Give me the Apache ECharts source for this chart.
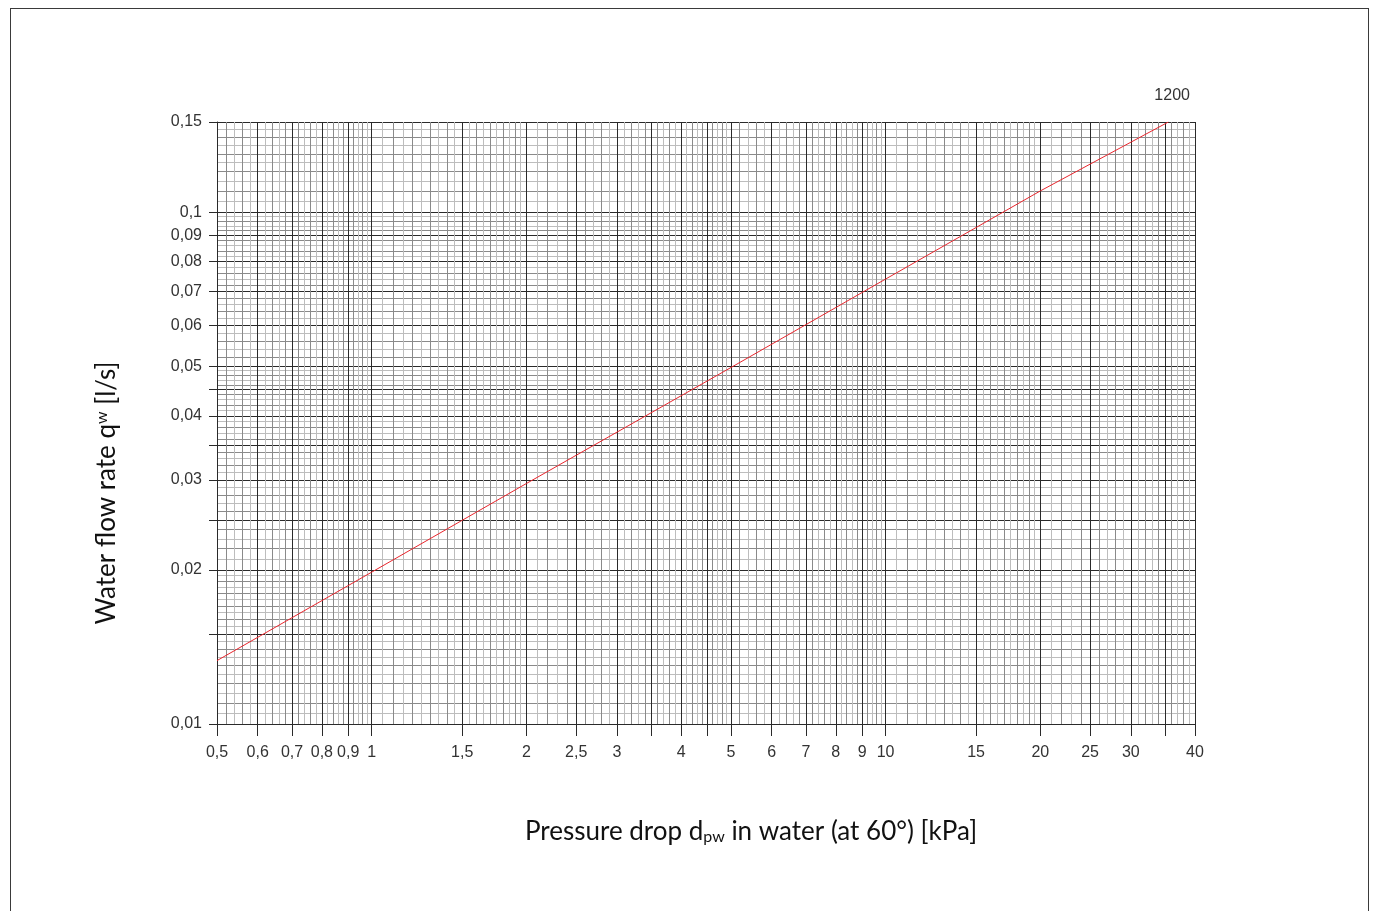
<!DOCTYPE html>
<html>
<head>
<meta charset="utf-8">
<script src="https://cdn.jsdelivr.net/npm/echarts@6/dist/echarts.min.js"></script>
<style>
html, body { margin: 0; padding: 0; background: #fff; overflow: hidden; }
#frame { position: absolute; left: 10px; top: 8px; width: 1357px; height: 1000px; border: 1px solid #3a3a3a; }
#chart { position: absolute; left: 0; top: 0; width: 1373px; height: 911px; }
</style>
</head>
<body>
<div id="frame"></div>
<div id="chart"></div>
<script>
// axis ticks / labels
const xTicks = [0.5, 0.6, 0.7, 0.8, 0.9, 1, 1.5, 2, 2.5, 3, 3.5, 4, 4.5, 5, 6, 7, 8, 9, 10, 15, 20, 25, 30, 35, 40];
const xLabels = [0.5, 0.6, 0.7, 0.8, 0.9, 1, 1.5, 2, 2.5, 3, 4, 5, 6, 7, 8, 9, 10, 15, 20, 25, 30, 40];
const yTicks = [0.01, 0.015, 0.02, 0.025, 0.03, 0.035, 0.04, 0.045, 0.05, 0.06, 0.07, 0.08, 0.09, 0.1, 0.15];
const yLabels = [0.01, 0.02, 0.03, 0.04, 0.05, 0.06, 0.07, 0.08, 0.09, 0.1, 0.15];

// fine grid: [from, to, step]
const xFine = [[0.5, 1, 0.02], [1, 2, 0.05], [2, 5, 0.1], [5, 10, 0.2], [10, 20, 0.5], [20, 40, 1]];
const yFine = [[0.01, 0.02, 0.0005], [0.02, 0.05, 0.001], [0.05, 0.1, 0.002], [0.1, 0.15, 0.005]];

// curve 1200
const pressureDrop = [0.5, 1, 2, 5, 10, 20, 35.5];
const flowRate = [0.0133, 0.0198, 0.0295, 0.0497, 0.074, 0.110, 0.15];

function fineLines(ranges, ticks, medium) {
    const out = [];
    ranges.forEach(([a, b, s]) => {
        const n = Math.round((b - a) / s);
        for (let k = 1; k < n; k++) {
            const v = +(a + k * s).toFixed(6);
            if (ticks.some(t => Math.abs(t - v) < 1e-9)) continue;
            const r = v / (2 * s);
            const isMed = Math.abs(r - Math.round(r)) < 1e-6;
            if (isMed === medium) out.push(v);
        }
    });
    return out;
}

const fmt = v => String(+(+v).toPrecision(6)).replace('.', ',');
const labelFont = 'Liberation Sans';

function gridAxis(vals, color, min, max, pos) {
    return {
        type: 'log', logBase: 10, min: min, max: max, silent: true, position: pos,
        axisLine: { show: false },
        axisTick: { show: false, customValues: vals },
        axisLabel: { show: false },
        splitLine: { show: true, lineStyle: { color: color, width: 1 } }
    };
}

const chart = echarts.init(document.getElementById('chart'));
chart.setOption({
    animation: false,
    backgroundColor: 'transparent',
    grid: { left: 217, right: 178, top: 122, bottom: 187 },
    xAxis: [
        gridAxis(fineLines(xFine, xTicks, false), '#bdbdbd', 0.5, 40, 'top'),
        gridAxis(fineLines(xFine, xTicks, true), '#8a8a8a', 0.5, 40, 'top'),
        {
            type: 'log', logBase: 10, min: 0.5, max: 40, silent: true, position: 'bottom',
            axisLine: { show: true, lineStyle: { color: '#2a2a2a' } },
            axisTick: { show: true, customValues: xTicks, length: 12, lineStyle: { color: '#2a2a2a' } },
            axisLabel: { customValues: xLabels, formatter: fmt, color: '#333', fontSize: 16, fontFamily: labelFont, margin: 21 },
            splitLine: { show: true, lineStyle: { color: '#2a2a2a', width: 1 } }
        }
    ],
    yAxis: [
        gridAxis(fineLines(yFine, yTicks, false), '#bdbdbd', 0.01, 0.15, 'right'),
        gridAxis(fineLines(yFine, yTicks, true), '#8a8a8a', 0.01, 0.15, 'right'),
        {
            type: 'log', logBase: 10, min: 0.01, max: 0.15, silent: true, position: 'left',
            axisLine: { show: true, lineStyle: { color: '#2a2a2a' } },
            axisTick: { show: true, customValues: yTicks, length: 8, lineStyle: { color: '#2a2a2a' } },
            axisLabel: { customValues: yLabels, formatter: fmt, color: '#333', fontSize: 16, fontFamily: labelFont, margin: 15 },
            splitLine: { show: true, lineStyle: { color: '#2a2a2a', width: 1 } }
        }
    ],
    series: [{
        name: '1200',
        type: 'line',
        xAxisIndex: 2,
        yAxisIndex: 2,
        data: pressureDrop.map((p, i) => [p, flowRate[i]]),
        showSymbol: false,
        silent: true,
        z: 10,
        lineStyle: { color: '#e8262d', width: 1 },
        endLabel: { show: true, formatter: '1200', color: '#333', fontSize: 16, fontFamily: labelFont, offset: [-22, -26] }
    }],
    graphic: [
        {
            type: 'text', x: 751, y: 832,
            style: {
                text: '{a|Pressure drop d}{s|pw}{a| in water (at 60°) [kPa]}',
                align: 'center', verticalAlign: 'middle',
                rich: {
                    a: { fontSize: 26, fontFamily: 'Lato', fill: '#111' },
                    s: { fontSize: 16, fontFamily: 'Lato', fill: '#111', verticalAlign: 'bottom' }
                }
            }
        },
        {
            type: 'text', x: 107, y: 493, rotation: Math.PI / 2,
            style: {
                text: '{a|Water flow rate q}{s|w}{a| [l/s]}',
                align: 'center', verticalAlign: 'middle',
                rich: {
                    a: { fontSize: 26, fontFamily: 'Lato', fill: '#111' },
                    s: { fontSize: 16, fontFamily: 'Lato', fill: '#111', verticalAlign: 'top' }
                }
            }
        }
    ]
});
</script>
</body>
</html>
